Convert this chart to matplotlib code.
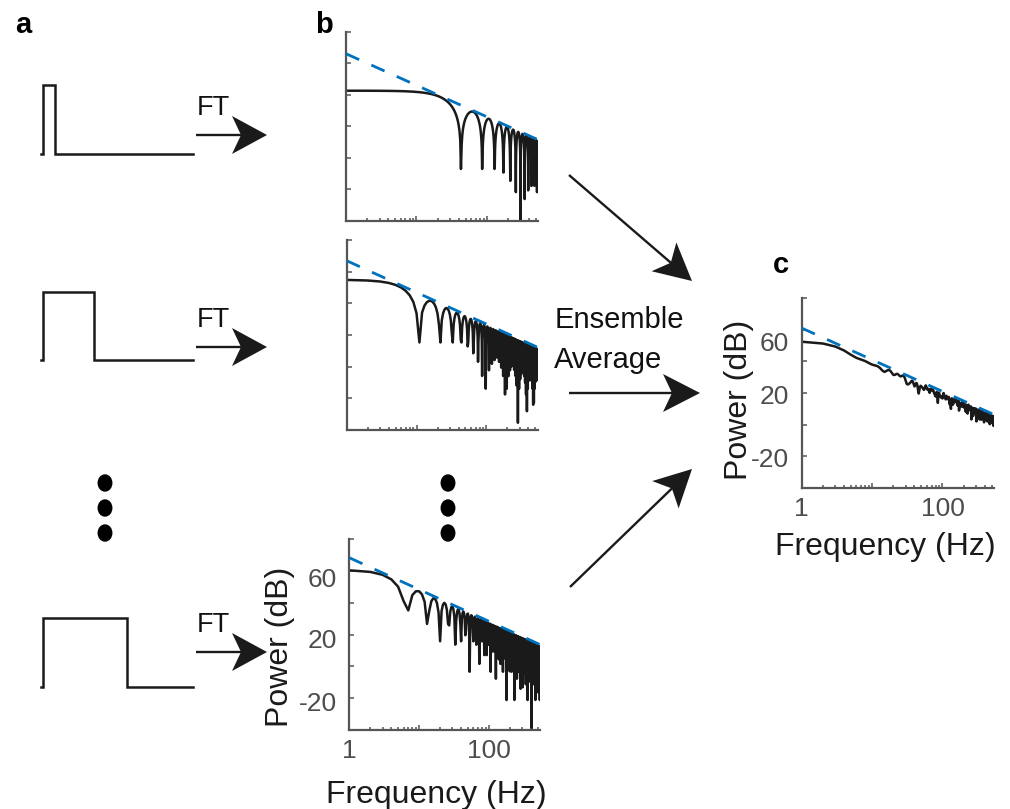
import numpy as np
import matplotlib
matplotlib.use("Agg")
import matplotlib.pyplot as plt
import matplotlib.transforms as mtransforms
from matplotlib.patches import Polygon, Ellipse
from matplotlib.ticker import LogLocator, NullFormatter, FixedLocator

plt.rcParams['font.family'] = ['Liberation Sans', 'DejaVu Sans']
plt.rcParams['path.simplify'] = False

# ---------------- data ----------------
freq_max_hz = 540                                   # upper end of the frequency axis
pulse_widths_s = [0.02318, 0.09187, 0.15085]        # widths of the three pulses (panel a / b)
b_env_db_at_1hz = [65.3, 65.7, 67.3]                # 1/f^2 envelope level of each spectrum at 1 Hz
b_ref_db_at_1hz = [66.0, 66.9, 68.4]                # dashed 1/f^2 reference line at 1 Hz (panel b)
ens_widths_s = [0.023, 0.062, 0.092, 0.128, 0.151, 0.198]  # pulses in the ensemble
c_ref_db_at_1hz = 61.0                              # dashed reference line at 1 Hz (panel c)
ref_slope_db_per_decade = -20.0
pulse_window_s = 0.2714                             # time span drawn for each pulse (panel a)
pulse_onset_s = 0.0027
y_ticks = [-40, -20, 0, 20, 40, 60, 80]
y_tick_labels = ['', '-20', '', '20', '', '60', '']
x_ticks = [1, 10, 100]
x_tick_labels = ['1', '', '100']

# ---------------- figure ----------------
W, H = 1010, 809
fig = plt.figure(figsize=(W / 100, H / 100), dpi=100)


def rect(l, t, r, b):
    return [l / W, 1 - b / H, (r - l) / W, (b - t) / H]


SPINE = '#555555'
TICKLAB = '#4d4d4d'
CURVE = '#1a1a1a'
BLUE = '#0072BD'

# overlay for annotations (pixel coordinates)
ov = fig.add_axes([0, 0, 1, 1])
ov.set_xlim(0, W)
ov.set_ylim(H, 0)
ov.axis('off')


def arrow(x0, y0, x1, y1, L=35, hw=19, notch=9, lw=1.7):
    d = np.array([x1 - x0, y1 - y0], float)
    u = d / np.hypot(*d)
    n = np.array([-u[1], u[0]])
    tip = np.array([x1, y1], float)
    base = tip - L * u
    nb = tip - (L - notch) * u
    poly = Polygon([tip, base + hw * n, nb, base - hw * n], closed=True,
                   facecolor='#1a1a1a', edgecolor='none')
    ov.add_patch(poly)
    ov.plot([x0, nb[0] + u[0] * 2], [y0, nb[1] + u[1] * 2], color='#1a1a1a', lw=lw,
            solid_capstyle='butt')


# FT arrows
for yb, ya in [(115, 135), (327, 347), (632, 652)]:
    ov.text(197, yb, 'FT', fontsize=19.5, ha='left', va='baseline', color='#111111')
    arrow(196, ya, 267, ya)

# big arrows to panel c
arrow(569, 175, 692, 281, L=37)
arrow(569, 393, 700, 393, L=37)
arrow(570, 587, 692, 469, L=37)
ov.text(555, 328, 'Ensemble', fontsize=21, ha='left', va='baseline', color='#111111')
ov.text(554, 368, 'Average', fontsize=21, ha='left', va='baseline', color='#111111')

# vertical ellipsis dots
for xc in (105, 448):
    for yc in (483, 508, 533):
        ov.add_patch(Ellipse((xc, yc), 13.5, 16, color='black'))

# panel letters
ov.text(15, 33, 'a', fontsize=21, fontweight='bold', ha='left', va='baseline')
ov.text(315, 33, 'b', fontsize=21, fontweight='bold', ha='left', va='baseline')
ov.text(773, 273, 'c', fontsize=21, fontweight='bold', ha='left', va='baseline')

# ---------------- panel a: pulses ----------------
pulse_rows = [(85, 154), (292, 360), (618, 687)]
for w, (top, base) in zip(pulse_widths_s, pulse_rows):
    pa = fig.add_axes(rect(41, top, 193, base))
    t = [0, pulse_onset_s, pulse_onset_s, pulse_onset_s + w, pulse_onset_s + w, pulse_window_s]
    v = [0, 0, 1, 1, 0, 0]
    pa.plot(t, v, color=CURVE, lw=1.8, clip_on=False, solid_joinstyle='miter')
    pa.set_xlim(0, pulse_window_s)
    pa.set_ylim(0, 1)
    pa.axis('off')

# ---------------- spectra ----------------
f = np.arange(1, freq_max_hz + 1, dtype=float)
f_ref = np.array([1.0, float(freq_max_hz)])


def style_axes(ax, labels, label_shift_px=None):
    ax.set_xscale('log')
    ax.set_xlim(1, freq_max_hz)
    ax.set_ylim(y_ticks[0], y_ticks[-1])
    for s in ('top', 'right'):
        ax.spines[s].set_visible(False)
    for s in ('left', 'bottom'):
        ax.spines[s].set_color(SPINE)
        ax.spines[s].set_linewidth(1.6)
    ax.xaxis.set_major_locator(FixedLocator(x_ticks))
    ax.xaxis.set_minor_locator(LogLocator(base=10, subs=np.arange(2, 10)))
    ax.xaxis.set_minor_formatter(NullFormatter())
    ax.set_xticklabels(x_tick_labels)
    ax.set_yticks(y_ticks)
    ax.set_yticklabels(y_tick_labels)
    ax.tick_params(which='major', axis='x', direction='in', length=3.5, width=1.1, color=SPINE,
                   labelsize=19, labelcolor=TICKLAB, pad=6.5)
    ax.tick_params(which='minor', axis='x', direction='in', length=2.5, width=1.1, color=SPINE)
    ax.tick_params(axis='y', direction='in', length=3.5, width=1.1, color=SPINE,
                   labelsize=19, labelcolor=TICKLAB, pad=9)
    if not labels:
        ax.tick_params(labelleft=False, labelbottom=False)
    elif label_shift_px:
        for lab in ax.get_yticklabels():
            dy = label_shift_px.get(lab.get_text(), 0)
            if dy:
                lab.set_transform(lab.get_transform() +
                                  mtransforms.ScaledTranslation(0, -dy / 100, fig.dpi_scale_trans))
    ax.patch.set_alpha(0)


b_rects = [rect(346, 31.7, 538.3, 220.7), rect(346.7, 240, 537.5, 430), rect(349.3, 539.3, 540, 730)]
for i, (w, e0, r0) in enumerate(zip(pulse_widths_s, b_env_db_at_1hz, b_ref_db_at_1hz)):
    ax = fig.add_axes(b_rects[i])
    power_db = e0 + 20 * np.log10(np.pi) + 20 * np.log10(w * np.abs(np.sinc(f * w)))
    ax.plot(f, power_db, color=CURVE, lw=1.8, zorder=2)
    ref_db = r0 + ref_slope_db_per_decade * np.log10(f_ref)
    ax.plot(f_ref, ref_db, color=BLUE, lw=2.0, dashes=(5.2, 4.8), zorder=3)
    style_axes(ax, labels=(i == 2), label_shift_px={'60': 6, '20': 4, '-20': 3})
    if i == 2:
        ax.set_xlabel('Frequency (Hz)', fontsize=23, color='#1a1a1a', va='baseline')
        ax.xaxis.set_label_coords(0.458, -0.384)
        ax.set_ylabel('Power (dB)', fontsize=23, color='#1a1a1a', va='center')
        ax.yaxis.set_label_coords(-0.363, 0.437)

# panel c: ensemble average
axc = fig.add_axes(rect(801.7, 298, 994, 488))
ens_power = np.mean([(w * np.sinc(f * w)) ** 2 for w in ens_widths_s], axis=0)
c_db = c_ref_db_at_1hz + 20 * np.log10(np.pi) + 10 * np.log10(ens_power)
axc.plot(f, c_db, color=CURVE, lw=1.8, zorder=2)
axc.plot(f_ref, c_ref_db_at_1hz + ref_slope_db_per_decade * np.log10(f_ref), color=BLUE, lw=2.0,
         dashes=(5.2, 4.8), zorder=3)
style_axes(axc, labels=True, label_shift_px={'60': 12, '20': 1, '-20': 1})
axc.set_xlabel('Frequency (Hz)', fontsize=23, color='#1a1a1a', va='baseline')
axc.xaxis.set_label_coords(0.437, -0.353)
axc.set_ylabel('Power (dB)', fontsize=23, color='#1a1a1a', va='center')
axc.yaxis.set_label_coords(-0.326, 0.463)

fig.savefig('out.png', dpi=100)
